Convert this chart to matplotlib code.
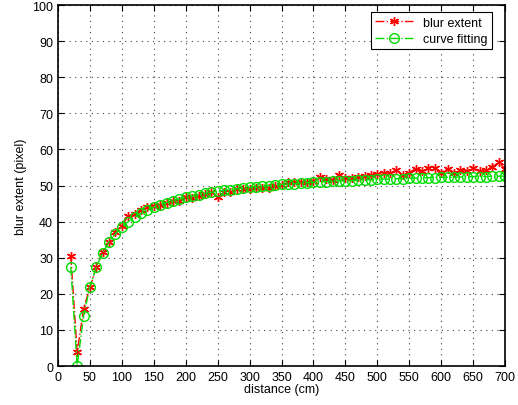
import numpy as np
import matplotlib
matplotlib.use("Agg")
import matplotlib.pyplot as plt

plt.rcParams['font.family'] = ['Liberation Sans', 'DejaVu Sans']

distance = np.arange(20, 701, 10)

blur_extent = [30.5, 3.8, 15.8, 21.8, 27.3, 31.5, 34.3, 37.2, 38.9, 41.5,
               42.1, 43.3, 44.0, 44.4, 44.7, 45.1, 45.6, 45.8, 46.7, 46.5,
               47.0, 47.6, 48.1, 46.7, 48.3, 48.1, 49.0, 49.0, 49.0, 49.3,
               49.4, 49.3, 49.8, 50.2, 50.9, 50.9, 50.9, 51.0, 51.2, 52.3,
               51.8, 51.5, 53.0, 52.0, 52.0, 52.5, 52.6, 52.9, 53.1, 53.6,
               53.4, 54.3, 52.9, 53.6, 54.7, 53.9, 54.8, 54.8, 53.6, 54.7,
               53.6, 54.3, 53.9, 55.0, 53.9, 54.3, 55.2, 56.4, 54.7]

curve_fit = [27.5, 0.0, 13.8, 22.0, 27.5, 31.4, 34.4, 36.7, 38.5, 40.0,
             41.3, 42.3, 43.2, 44.0, 44.7, 45.3, 45.8, 46.3, 46.8, 47.1,
             47.5, 47.8, 48.1, 48.4, 48.7, 48.9, 49.1, 49.3, 49.5, 49.7,
             49.8, 50.0, 50.1, 50.3, 50.4, 50.5, 50.7, 50.8, 50.9, 51.0,
             51.1, 51.2, 51.3, 51.3, 51.4, 51.5, 51.6, 51.6, 51.7, 51.8,
             51.8, 51.9, 51.9, 52.0, 52.1, 52.1, 52.2, 52.2, 52.3, 52.3,
             52.3, 52.4, 52.4, 52.5, 52.5, 52.5, 52.6, 52.6, 52.6]

fig = plt.figure(figsize=(5.18, 4.06), dpi=100)
ax = fig.add_axes([0.112, 0.096, 0.863, 0.889])

ax.plot(distance, blur_extent, color='red', linestyle='-.', linewidth=1.0,
        marker=(6, 2, 0), markersize=6.5, markeredgewidth=1.0,
        label='blur extent')
ax.plot(distance, curve_fit, color='#00dd00', linestyle='-.', linewidth=1.0,
        marker='o', markersize=7, markerfacecolor='none', markeredgewidth=1.0,
        label='curve fitting')

ax.set_xlim(0, 700)
ax.set_ylim(0, 100)
ax.set_xticks(np.arange(0, 701, 50))
ax.set_yticks(np.arange(0, 101, 10))
ax.grid(True, linestyle=(0, (1, 4)), color='#444444', linewidth=0.8)
ax.tick_params(direction='in', top=True, right=True, labelsize=9, length=4)
for s in ax.spines.values():
    s.set_linewidth(1.2)

ax.set_xlabel('distance (cm)', fontsize=9, labelpad=0)
ax.set_ylabel('blur extent (pixel)', fontsize=9, labelpad=4)

leg = ax.legend(loc='upper right', bbox_to_anchor=(0.97, 0.98), fontsize=9,
                fancybox=False, framealpha=1, edgecolor='black',
                borderaxespad=0, handlelength=3, borderpad=0.35,
                labelspacing=0.35)
leg.get_frame().set_linewidth(0.8)

fig.savefig('out.png', dpi=100)
